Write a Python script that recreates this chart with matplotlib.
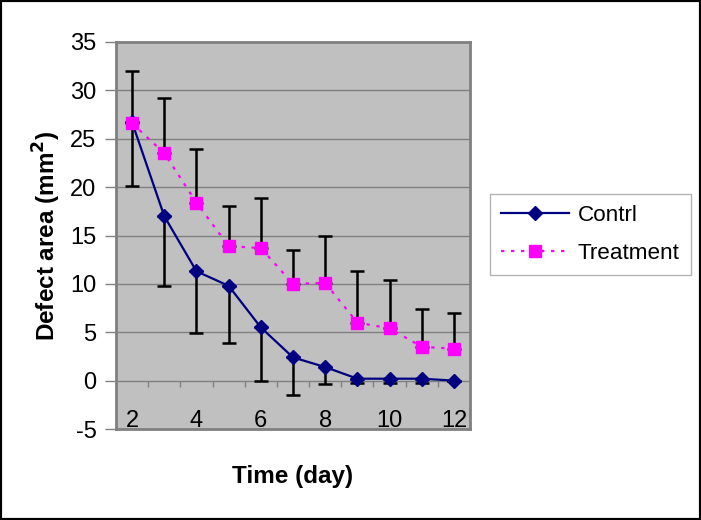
import numpy as np
import matplotlib
matplotlib.use("Agg")
import matplotlib.pyplot as plt
from matplotlib.patches import Rectangle

plt.rcParams["font.family"] = ["Liberation Sans", "DejaVu Sans"]
plt.rcParams["axes.unicode_minus"] = False

# data
days = [2, 3, 4, 5, 6, 7, 8, 9, 10, 11, 12]
control = [26.7, 17.0, 11.3, 9.8, 5.5, 2.4, 1.4, 0.2, 0.2, 0.2, 0.0]
control_lower = [20.1, 9.8, 4.9, 3.9, 0.0, -1.5, -0.3, -0.2, -0.2, -0.2, 0.0]
treatment = [26.6, 23.5, 18.4, 13.9, 13.7, 10.0, 10.1, 6.0, 5.4, 3.5, 3.3]
treatment_upper = [32.0, 29.2, 23.9, 18.1, 18.9, 13.5, 15.0, 11.3, 10.4, 7.4, 7.0]
tick_days = [2, 4, 6, 8, 10, 12]

control = np.array(control)
treatment = np.array(treatment)
c_err = [control - np.array(control_lower), np.zeros_like(control)]
t_err = [np.zeros_like(treatment), np.array(treatment_upper) - treatment]

fig = plt.figure(figsize=(7.01, 5.20), dpi=100)
ax = fig.add_axes([116 / 701, 1 - 429 / 520, (470 - 116) / 701, (429 - 42) / 520])
ax.set_facecolor("#C0C0C0")

ax.errorbar(days, treatment, yerr=t_err, fmt="none", ecolor="black",
            elinewidth=1.8, capsize=5, capthick=1.8, zorder=3)
ax.errorbar(days, control, yerr=c_err, fmt="none", ecolor="black",
            elinewidth=1.8, capsize=5, capthick=1.8, zorder=3)
ax.plot(days, control, color="#000080", lw=1.6, marker="D", ms=6.8,
        label="Contrl", zorder=4)
ax.plot(days, treatment, color="#FF00FF", lw=1.6, ls=(0, (1.5, 3)),
        marker="s", ms=8, label="Treatment", zorder=4)

ax.set_xlim(1.5, 12.5)
ax.set_ylim(-5, 35)
ax.set_yticks(np.arange(-5, 36, 5))
ax.grid(axis="y", color="#808080", lw=1)
ax.set_axisbelow(True)

# category tick marks sit on the zero line
ax.vlines(np.arange(2.5, 12, 1), -0.7, 0, color="#808080", lw=1, zorder=2)

ax.set_xticks(tick_days)
ax.tick_params(axis="x", length=0, pad=-14, labelsize=17)
ax.tick_params(axis="y", length=8, width=1, color="#808080", labelsize=17, pad=6)

for s in ax.spines.values():
    s.set_color("#808080")
    s.set_linewidth(2)

ax.set_ylabel("Defect area (mm$^\\mathbf{2}$)", fontsize=17.5, fontweight="bold", labelpad=5)
ax.set_xlabel("Time (day)", fontsize=17.5, fontweight="bold", labelpad=24)

leg = fig.legend(loc="upper left", bbox_to_anchor=(490 / 701, 1 - 194 / 520),
                 fontsize=16.2, frameon=True, fancybox=False, borderpad=0.5,
                 borderaxespad=0, handlelength=3.0, labelspacing=0.75,
                 handletextpad=0.4)
leg.get_frame().set_edgecolor("#A0A0A0")
leg.get_frame().set_linewidth(1)

fig.patches.append(Rectangle((0, 0), 1, 1, transform=fig.transFigure,
                             fill=False, edgecolor="black", lw=3))

fig.savefig("out.png", dpi=100)
